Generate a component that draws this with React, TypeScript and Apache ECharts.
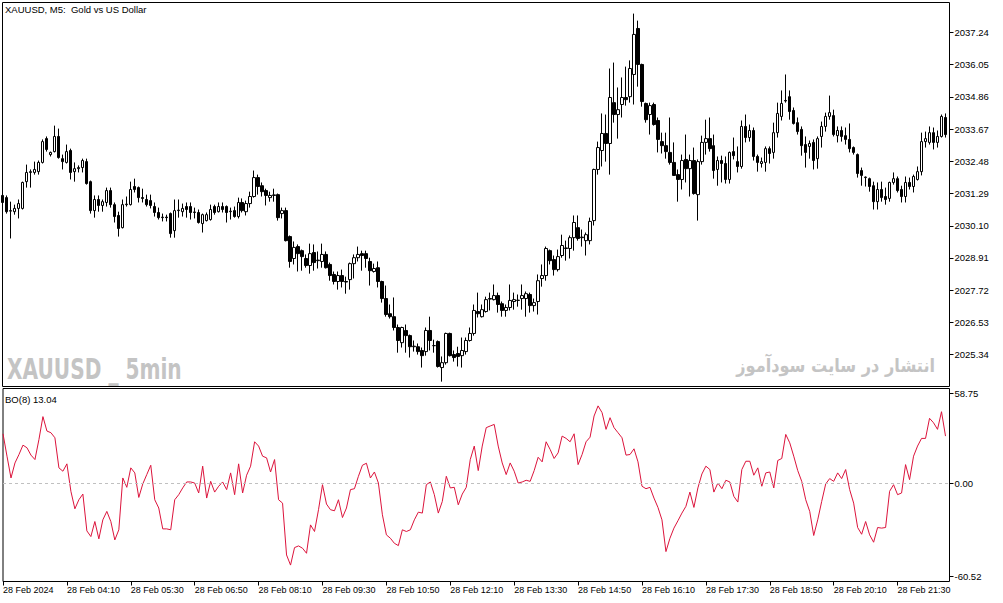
import React, { useEffect, useRef } from "react";
import * as echarts from "echarts";

// [open, close, low, high] per 5-minute bar, starting 28 Feb 02:50
const candles: number[][] = [
  [2031.22,2030.96,2030.88,2031.29],[2031.14,2030.62,2030.55,2031.22],[2030.64,2030.66,2029.63,2030.99],[2030.62,2030.74,2030.51,2030.88],[2030.74,2030.92,2030.37,2031.07],
  [2030.74,2031.70,2030.70,2031.73],[2031.73,2032.07,2031.51,2032.36],[2032.07,2032.10,2031.51,2032.18],[2032.07,2032.18,2031.99,2032.47],[2032.10,2032.44,2031.99,2032.51],
  [2032.44,2033.21,2032.40,2033.29],[2033.32,2032.92,2032.84,2033.40],[2032.73,2032.81,2032.66,2032.84],[2032.84,2033.40,2032.81,2033.80],[2033.40,2032.62,2032.58,2033.69],
  [2032.58,2032.47,2032.18,2032.73],[2032.44,2032.84,2032.40,2033.10],[2032.88,2032.07,2031.81,2032.95],[2032.10,2032.21,2031.73,2032.44],[2032.21,2032.25,2032.07,2032.33],
  [2032.25,2032.51,2032.07,2032.58],[2032.47,2031.66,2031.62,2032.58],[2031.73,2030.66,2030.55,2031.77],[2030.66,2031.07,2030.40,2031.22],[2031.07,2030.85,2030.62,2031.22],
  [2030.85,2030.99,2030.62,2031.07],[2030.96,2031.40,2030.81,2031.51],[2031.40,2030.88,2030.77,2031.51],[2030.88,2030.44,2030.22,2030.96],[2030.48,2030.00,2029.70,2030.62],
  [2030.03,2030.88,2030.00,2031.07],[2030.88,2030.90,2030.81,2031.18],[2030.88,2031.44,2030.85,2031.73],[2031.55,2031.44,2031.33,2031.84],[2031.51,2031.14,2030.96,2031.55],
  [2031.14,2031.11,2030.96,2031.47],[2031.07,2030.88,2030.81,2031.25],[2031.03,2030.85,2030.74,2031.25],[2030.81,2030.59,2030.44,2030.96],[2030.59,2030.40,2030.33,2030.77],
  [2030.40,2030.42,2030.26,2030.55],[2030.42,2030.40,2030.26,2030.51],[2030.55,2029.81,2029.66,2030.59],[2029.92,2030.66,2029.66,2031.07],[2030.66,2030.68,2030.40,2031.07],
  [2030.62,2030.74,2030.44,2030.92],[2030.81,2030.70,2030.40,2030.96],[2030.81,2030.59,2030.33,2030.96],[2030.59,2030.61,2030.37,2030.77],[2030.59,2030.22,2030.18,2030.70],
  [2030.18,2030.51,2029.85,2030.55],[2030.29,2030.51,2030.26,2030.59],[2030.33,2030.70,2030.29,2030.88],[2030.81,2030.59,2030.51,2030.88],[2030.62,2030.81,2030.59,2030.96],
  [2030.81,2030.70,2030.59,2030.96],[2030.81,2030.59,2030.22,2030.85],[2030.62,2030.64,2030.33,2030.77],[2030.66,2030.44,2030.40,2030.81],[2030.44,2030.96,2030.37,2031.14],
  [2030.96,2030.66,2030.59,2031.11],[2030.62,2030.92,2030.48,2031.03],[2030.92,2031.18,2030.77,2031.36],[2031.18,2031.88,2031.14,2032.14],[2031.88,2031.55,2031.25,2031.99],
  [2031.58,2031.36,2031.18,2031.70],[2031.40,2031.22,2030.85,2031.47],[2031.14,2031.22,2030.99,2031.36],[2031.22,2031.24,2030.99,2031.47],[2031.25,2030.40,2030.29,2031.29],
  [2030.55,2030.66,2030.37,2030.77],[2030.66,2029.55,2029.52,2030.77],[2029.70,2028.78,2028.55,2029.74],[2028.89,2029.30,2028.67,2029.52],[2029.33,2029.07,2028.41,2029.41],
  [2029.18,2028.96,2028.44,2029.22],[2028.89,2028.63,2028.55,2029.04],[2028.63,2029.07,2028.33,2029.44],[2029.11,2028.74,2028.44,2029.41],[2028.81,2028.83,2028.52,2029.15],
  [2028.78,2029.04,2028.55,2029.44],[2029.04,2028.55,2028.52,2029.15],[2028.67,2028.26,2028.07,2028.74],[2028.30,2028.04,2027.93,2028.41],[2028.04,2028.26,2027.74,2028.41],
  [2028.26,2028.04,2027.82,2028.48],[2028.04,2028.02,2027.59,2028.22],[2028.11,2028.70,2027.74,2028.74],[2028.70,2028.92,2028.15,2029.04],[2028.92,2029.04,2028.78,2029.33],
  [2029.07,2029.00,2028.44,2029.18],[2029.07,2028.89,2028.55,2029.18],[2028.78,2028.44,2027.89,2028.92],[2028.41,2028.52,2028.37,2028.70],[2028.55,2028.04,2027.82,2028.78],
  [2028.04,2027.41,2027.26,2028.07],[2027.41,2026.82,2026.74,2027.89],[2026.85,2026.74,2026.67,2027.19],[2026.74,2026.34,2026.23,2027.45],[2026.34,2025.86,2025.41,2026.45],
  [2025.78,2026.34,2025.60,2026.37],[2026.23,2026.04,2025.41,2026.45],[2026.04,2025.63,2025.23,2026.08],[2025.63,2025.65,2025.45,2025.86],[2025.63,2025.45,2025.34,2025.75],
  [2025.49,2025.30,2024.86,2025.60],[2025.45,2026.23,2025.30,2026.34],[2026.23,2025.86,2025.49,2026.74],[2025.67,2025.67,2025.41,2025.89],[2025.82,2024.90,2024.86,2025.86],
  [2024.86,2025.04,2024.34,2025.27],[2025.04,2026.12,2024.97,2026.15],[2026.12,2025.30,2025.27,2026.15],[2025.34,2025.23,2025.08,2025.49],[2025.38,2025.27,2024.90,2025.63],
  [2025.30,2025.49,2024.86,2025.97],[2025.45,2025.86,2025.34,2025.97],[2025.86,2026.12,2025.82,2026.34],[2026.12,2026.97,2026.04,2027.19],[2026.93,2026.85,2026.71,2027.63],
  [2026.74,2027.00,2026.71,2027.19],[2026.93,2027.37,2026.89,2027.48],[2027.41,2027.39,2026.97,2027.63],[2027.37,2027.52,2027.34,2027.93],[2027.52,2027.19,2026.89,2027.63],
  [2027.22,2026.97,2026.74,2027.30],[2026.97,2027.08,2026.74,2027.19],[2027.08,2027.34,2026.97,2027.93],[2027.30,2027.37,2027.00,2027.63],[2027.34,2027.35,2027.11,2027.56],
  [2027.41,2027.52,2027.00,2027.93],[2027.41,2027.59,2026.74,2027.67],[2027.56,2027.15,2026.89,2027.63],[2027.15,2027.26,2026.93,2027.41],[2027.30,2028.07,2026.82,2028.30],
  [2028.15,2028.26,2027.85,2028.67],[2028.26,2029.26,2028.07,2029.33],[2029.18,2028.81,2028.67,2029.22],[2028.85,2028.48,2028.26,2029.00],[2028.48,2028.96,2028.41,2029.22],
  [2029.00,2029.37,2028.92,2029.77],[2029.26,2029.28,2028.81,2029.55],[2029.26,2029.66,2028.89,2029.74],[2029.66,2030.22,2029.18,2030.48],[2030.03,2029.63,2029.55,2030.48],
  [2029.66,2029.68,2029.33,2029.96],[2029.55,2029.77,2029.00,2029.85],[2029.55,2030.26,2029.41,2030.40],[2030.29,2032.18,2030.11,2032.21],[2032.18,2032.99,2031.99,2033.21],
  [2032.88,2033.51,2032.29,2034.25],[2033.51,2033.14,2032.47,2034.21],[2033.14,2034.84,2031.99,2035.91],[2034.65,2034.21,2033.91,2036.13],[2034.21,2034.39,2033.32,2035.21],
  [2034.58,2034.84,2034.10,2035.58],[2034.84,2034.76,2034.54,2035.98],[2034.87,2035.91,2034.65,2036.21],[2035.69,2037.17,2034.58,2037.94],[2037.39,2036.06,2035.24,2037.68],
  [2036.06,2034.69,2034.50,2036.09],[2034.62,2034.02,2033.91,2034.65],[2034.21,2034.54,2033.47,2034.65],[2034.58,2033.84,2033.80,2034.65],[2033.99,2033.29,2032.81,2034.10],
  [2033.21,2033.06,2032.77,2033.54],[2033.06,2032.84,2032.58,2033.54],[2032.81,2032.44,2032.36,2034.10],[2032.44,2031.96,2031.94,2033.18],[2031.99,2031.81,2030.99,2032.18],
  [2031.81,2032.51,2031.44,2032.73],[2032.55,2032.21,2031.70,2033.47],[2032.21,2032.51,2031.18,2032.73],[2032.51,2031.29,2031.25,2032.99],[2031.25,2032.47,2030.29,2032.55],
  [2032.47,2033.18,2032.36,2033.43],[2033.18,2033.32,2032.73,2034.02],[2033.32,2032.95,2032.84,2034.10],[2033.06,2032.14,2031.84,2033.47],[2032.18,2032.51,2031.58,2032.66],
  [2032.51,2032.40,2031.70,2032.69],[2032.40,2031.81,2031.66,2032.66],[2031.81,2032.81,2031.66,2032.84],[2032.84,2032.69,2032.55,2033.36],[2032.47,2032.29,2032.07,2033.03],
  [2032.29,2033.77,2032.21,2033.99],[2033.77,2033.36,2033.18,2034.21],[2033.36,2033.62,2033.21,2033.84],[2033.62,2032.66,2032.51,2033.73],[2032.66,2032.44,2032.10,2032.73],
  [2032.40,2032.47,2032.25,2032.62],[2032.44,2032.95,2032.10,2033.03],[2032.95,2032.77,2032.40,2033.03],[2032.81,2033.54,2032.58,2033.91],[2033.54,2034.25,2033.36,2034.65],
  [2034.14,2034.62,2033.99,2035.10],[2034.73,2034.71,2034.65,2035.69],[2034.87,2034.32,2034.02,2035.10],[2034.36,2033.88,2033.84,2034.47],[2033.91,2033.58,2033.47,2034.10],
  [2033.66,2033.06,2032.69,2033.77],[2033.10,2032.81,2032.25,2033.40],[2033.03,2033.14,2032.58,2033.25],[2033.18,2032.51,2032.18,2033.29],[2032.58,2033.32,2032.21,2033.40],
  [2033.40,2033.77,2032.99,2033.95],[2033.77,2034.14,2033.58,2034.28],[2034.14,2034.28,2034.02,2034.91],[2034.17,2033.47,2033.40,2034.39],[2033.43,2033.62,2033.18,2033.77],
  [2033.62,2033.40,2033.21,2033.77],[2033.43,2033.29,2033.10,2033.73],[2033.29,2032.95,2032.81,2033.88],[2032.99,2032.81,2032.73,2033.03],[2032.73,2032.03,2031.88,2032.77],
  [2032.14,2031.96,2031.58,2032.25],[2031.88,2031.90,2031.55,2031.92],[2031.84,2031.55,2031.36,2031.88],[2031.58,2030.99,2030.70,2031.73],[2030.99,2031.44,2030.70,2031.70],
  [2031.44,2031.14,2030.99,2031.73],[2031.18,2031.07,2030.88,2031.51],[2031.11,2031.70,2030.99,2031.73],[2031.70,2031.84,2031.62,2032.07],[2031.84,2031.40,2031.33,2031.92],
  [2031.44,2031.18,2030.96,2031.58],[2031.18,2031.70,2030.96,2031.92],[2031.70,2031.55,2031.44,2031.88],[2031.55,2031.92,2031.33,2031.99],[2031.81,2032.10,2031.77,2032.29],
  [2032.10,2033.21,2031.96,2033.54],[2033.21,2033.32,2032.99,2033.58],[2033.18,2033.54,2033.10,2033.77],[2033.54,2033.18,2032.92,2033.73],[2033.18,2033.40,2032.99,2033.62],
  [2033.40,2034.14,2033.36,2034.21],[2034.10,2033.47,2033.36,2034.25],
];

// BO(8) oscillator, one value per bar
const boValues: number[] = [
  32.5,17.9,3.7,13.5,19.0,25.1,23.4,18.6,15.7,28.8,
  43.7,34.3,33.2,29.9,10.3,8.1,12.9,-5.0,-16.4,-10.5,
  -6.8,-30.8,-34.5,-24.7,-36.0,-23.6,-18.1,-24.7,-36.7,-30.1,
  3.7,-2.4,10.3,7.0,-9.0,-0.2,5.9,12.0,-10.5,-15.9,
  -29.5,-29.5,-30.1,-10.5,-7.2,-2.8,1.1,1.1,0.4,-6.1,
  11.4,-9.4,1.5,-5.5,-1.7,1.1,-3.9,7.0,-7.2,12.9,
  -6.1,5.5,11.4,27.3,24.5,17.9,16.8,7.6,15.7,-10.5,
  -12.7,-46.5,-53.1,-41.7,-40.6,-42.1,-45.4,-26.9,-31.2,-17.0,
  -0.7,-13.3,-17.0,-17.7,-10.5,-22.1,-15.9,-3.9,-3.3,4.8,
  12.0,13.3,3.7,7.6,0.4,-20.3,-33.4,-35.6,-38.9,-40.4,
  -30.1,-31.2,-30.1,-23.6,-18.6,-19.2,-0.7,1.1,-7.2,-19.2,
  -11.6,4.8,-2.8,-2.4,-13.8,-6.8,-2.4,15.7,24.5,8.5,
  24.5,36.5,37.6,38.6,24.5,13.5,5.9,13.5,8.1,0.4,
  1.1,2.2,1.5,8.5,17.2,14.2,27.3,22.3,16.4,20.1,
  31.0,29.5,27.3,32.5,12.4,19.0,27.3,30.3,44.1,50.7,
  46.3,35.4,43.0,36.5,33.2,29.9,18.6,19.0,22.7,14.2,
  -1.7,-3.3,-2.4,-9.4,-15.5,-23.6,-44.3,-35.6,-29.0,-24.2,
  -19.2,-14.8,-5.5,-15.5,-2.8,6.3,11.4,9.2,-5.5,0.4,
  -3.3,2.2,1.1,-8.3,-12.0,9.2,14.6,14.6,5.5,10.3,
  -1.7,7.0,7.6,-2.8,15.1,16.4,32.1,26.6,17.9,8.5,
  1.5,-10.5,-18.1,-33.8,-23.6,-11.6,-0.2,3.3,1.5,7.0,
  3.3,9.2,-3.9,-12.7,-28.6,-33.0,-24.7,-33.4,-38.2,-28.6,
  -29.0,-28.6,-5.0,-0.7,-7.2,-6.1,12.4,2.6,17.9,24.5,
  29.5,29.5,42.6,39.7,35.4,46.9,31.0,
];

const priceTicks: number[] = [2025.34, 2026.53, 2027.72, 2028.91, 2030.10, 2031.29, 2032.48, 2033.67, 2034.86, 2036.05, 2037.24];
const boTicks: number[] = [58.75, 0, -60.52];
const timeTickLabels: string[] = [
  "28 Feb 2024", "28 Feb 04:10", "28 Feb 05:30", "28 Feb 06:50", "28 Feb 08:10",
  "28 Feb 09:30", "28 Feb 10:50", "28 Feb 12:10", "28 Feb 13:30", "28 Feb 14:50",
  "28 Feb 16:10", "28 Feb 17:30", "28 Feb 18:50", "28 Feb 20:10", "28 Feb 21:30",
];
const START_MINUTE = 2 * 60 + 50;
const BAR_MINUTES = 5;
const LABEL_EVERY = 16;

const pad = (n: number) => (n < 10 ? "0" + n : "" + n);
const categories: string[] = [];
for (let i = 0; i <= candles.length; i++) {
  const t = START_MINUTE + i * BAR_MINUTES;
  categories.push("28 Feb " + pad(Math.floor(t / 60) % 24) + ":" + pad(t % 60));
}

const FONT = '"Liberation Sans", Arial, sans-serif';

export default function App() {
  const ref = useRef<HTMLDivElement>(null);
  useEffect(() => {
    if (!ref.current) return;
    const chart = echarts.init(ref.current, null, { renderer: "svg" });
    const showIdx = (i: number) => i % LABEL_EVERY === 0;
    chart.setOption({
      animation: false,
      backgroundColor: "#ffffff",
      grid: [
        { left: 2.5, top: 2.5, width: 947, height: 384, show: true, borderColor: "#000", borderWidth: 1 },
        { left: 2.5, top: 388.5, width: 947, height: 193, show: true, borderColor: "#000", borderWidth: 1 },
      ],
      xAxis: [
        { type: "category", gridIndex: 0, data: categories, boundaryGap: false, show: false, axisLine: { onZero: false } },
        {
          type: "category", gridIndex: 1, data: categories, boundaryGap: false, position: "bottom",
          axisLine: { show: false, onZero: false },
          axisTick: { show: true, interval: (i: number) => showIdx(i), length: 4, lineStyle: { color: "#000" } },
          axisLabel: {
            interval: (i: number) => showIdx(i),
            formatter: (_v: string, i: number) => timeTickLabels[i / LABEL_EVERY] ?? "",
            align: "left", margin: 4, color: "#000", fontSize: 9, fontFamily: FONT,
          },
          splitLine: { show: false },
        },
      ],
      yAxis: [
        {
          type: "value", gridIndex: 0, position: "right", min: 2024.16, max: 2038.35,
          splitLine: { show: false }, axisLine: { show: false },
          axisTick: { show: true, length: 4, customValues: priceTicks, lineStyle: { color: "#000" } },
          axisLabel: { customValues: priceTicks, formatter: (v: number) => v.toFixed(2), margin: 5, color: "#000", fontSize: 9.5, fontFamily: FONT },
        },
        {
          type: "value", gridIndex: 1, position: "right", min: -63.8, max: 62.03,
          splitLine: { show: false }, axisLine: { show: false },
          axisTick: { show: true, length: 4, customValues: boTicks, lineStyle: { color: "#000" } },
          axisLabel: { customValues: boTicks, formatter: (v: number) => v.toFixed(2), margin: 5, color: "#000", fontSize: 9.5, fontFamily: FONT },
        },
      ],
      series: [
        {
          type: "candlestick", xAxisIndex: 0, yAxisIndex: 0, data: candles, barWidth: 3,
          itemStyle: { color: "#ffffff", color0: "#000000", borderColor: "#000000", borderColor0: "#000000", borderWidth: 1 },
        },
        {
          type: "line", xAxisIndex: 1, yAxisIndex: 1, data: boValues, showSymbol: false, symbol: "none",
          lineStyle: { color: "#DC143C", width: 1 },
          markLine: {
            silent: true, symbol: ["none", "none"], label: { show: false },
            lineStyle: { color: "#c0c0c0", type: [3, 3], width: 1 },
            data: [{ yAxis: 0 }],
          },
        },
      ],
      graphic: [
        { type: "text", left: 5, top: 4, style: { text: "XAUUSD, M5:  Gold vs US Dollar", fill: "#000", font: "9.5px " + FONT } },
        { type: "text", left: 5, top: 394, style: { text: "BO(8) 13.04", fill: "#000", font: "9.5px " + FONT } },
        {
          type: "text", x: 7, y: 355, scaleX: 0.8,
          style: { text: "XAUUSD _ 5min", fill: "#c4c4c4", textAlign: "left", textVerticalAlign: "top", font: 'bold 28px "DejaVu Sans Condensed", "Liberation Sans", sans-serif' },
        },
        {
          type: "text", x: 935, y: 356, scaleX: 0.85,
          style: { text: "انتشار در سایت سودآموز", fill: "#c4c4c4", textAlign: "right", textVerticalAlign: "top", font: 'bold 19px "DejaVu Sans", sans-serif' },
        },
      ],
    });
    return () => chart.dispose();
  }, []);
  return <div ref={ref} style={{ position: "absolute", left: 0, top: 0, width: 1003, height: 603 }} />;
}
